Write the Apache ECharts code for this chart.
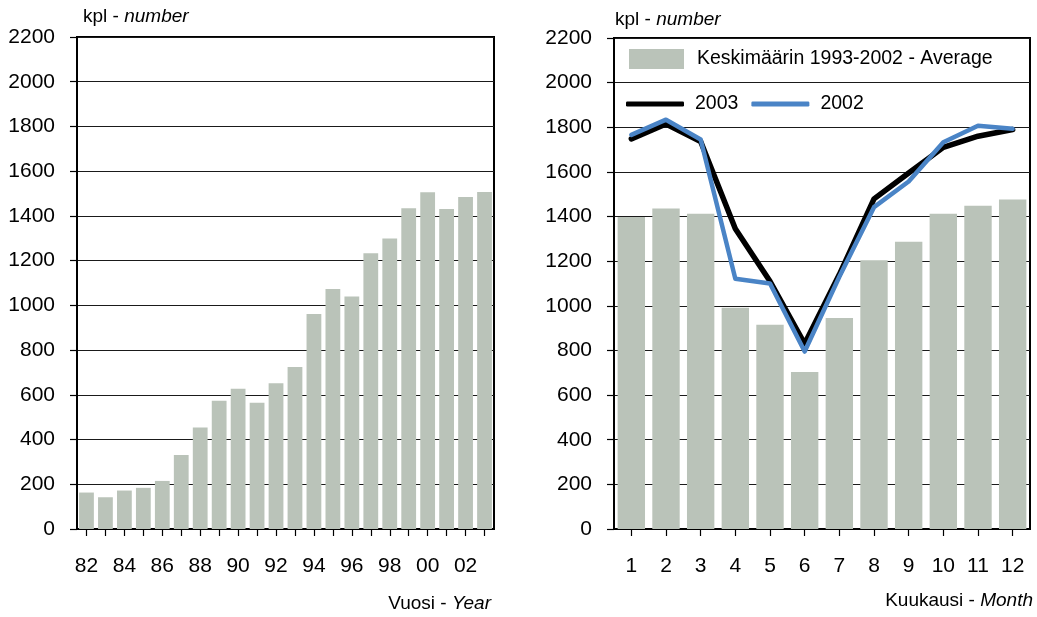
<!DOCTYPE html>
<html>
<head>
<meta charset="utf-8">
<script src="https://cdn.jsdelivr.net/npm/echarts@6/dist/echarts.min.js"></script>
<style>
  html, body { margin: 0; padding: 0; background: #fff; }
  #chart { width: 1037px; height: 617px; }
</style>
</head>
<body>
<div id="chart"></div>
<script>
// Annual totals, 1982-2003
const years = ['82','83','84','85','86','87','88','89','90','91','92','93','94','95','96','97','98','99','00','01','02','03'];
const yearTotals = [163,142,172,184,215,331,454,573,627,564,652,724,961,1073,1040,1233,1299,1434,1506,1431,1484,1507];

// Monthly figures
const months = ['1','2','3','4','5','6','7','8','9','10','11','12'];
const avg9302 = [1398,1436,1412,991,915,703,945,1204,1287,1412,1448,1476];
const y2003 = [1748,1815,1736,1345,1110,830,1140,1479,1595,1710,1760,1790];
const y2002 = [1766,1834,1745,1121,1100,795,1130,1442,1557,1733,1807,1793];

const avgName = 'Keskimäärin 1993-2002 - Average';
const FONT = '"Liberation Sans", Arial, sans-serif';
const BAR = '#bac3b9';
const BLUE = '#4a84c6';

function valueAxis(gridIndex) {
  return {
    type: 'value', gridIndex, min: 0, max: 2200, interval: 200,
    axisLine: { show: true, lineStyle: { color: '#000', width: 2 } },
    axisTick: { show: true, length: 7, lineStyle: { color: '#000', width: 1.2 } },
    axisLabel: { color: '#000', fontSize: 21, fontFamily: FONT, margin: 22, formatter: v => String(v) },
    splitLine: { show: true, lineStyle: { color: '#1a1a1a', width: 1 } }
  };
}
function catAxis(gridIndex, data, labelInterval) {
  return {
    type: 'category', gridIndex, data,
    axisLine: { show: true, lineStyle: { color: '#000', width: 2 } },
    axisTick: { show: true, length: 7, interval: 0, alignWithLabel: true, lineStyle: { color: '#000', width: 1.2 } },
    axisLabel: { color: '#000', fontSize: 21, fontFamily: FONT, margin: 27, interval: labelInterval },
    splitLine: { show: false }
  };
}
function axisTitle(pos, plain, italic) {
  return Object.assign({ type: 'text', z: 10 }, pos, {
    style: {
      text: '{a|' + plain + '}{b|' + italic + '}',
      rich: {
        a: { fontSize: 19, fontFamily: FONT, fill: '#000' },
        b: { fontSize: 19, fontFamily: FONT, fontStyle: 'italic', fill: '#000' }
      }
    }
  });
}

const chart = echarts.init(document.getElementById('chart'), null, { renderer: 'canvas' });
chart.setOption({
  backgroundColor: '#fff',
  animation: false,
  grid: [
    { left: 77, right: 543, top: 37, bottom: 88, show: true, borderColor: '#000', borderWidth: 2, backgroundColor: 'transparent' },
    { left: 614, right: 7, top: 38, bottom: 88, show: true, borderColor: '#000', borderWidth: 2, backgroundColor: 'transparent' }
  ],
  xAxis: [catAxis(0, years, 1), catAxis(1, months, 0)],
  yAxis: [valueAxis(0), valueAxis(1)],
  legend: [
    {
      data: [{ name: avgName, icon: 'rect' }], left: 629, top: 49, itemWidth: 55, itemHeight: 20,
      selectedMode: false, padding: 0,
      textStyle: { color: '#000', fontSize: 19.5, fontFamily: FONT, padding: [0, 0, 0, 8] }
    },
    {
      data: [
        { name: '2003', icon: 'roundRect', itemStyle: { color: '#000' } },
        { name: '2002', icon: 'roundRect', itemStyle: { color: BLUE } }
      ],
      left: 626, top: 94, itemWidth: 58, itemHeight: 5, itemGap: 13,
      selectedMode: false, padding: 0,
      textStyle: { color: '#000', fontSize: 19.5, fontFamily: FONT, padding: [0, 0, 0, 6] }
    }
  ],
  series: [
    {
      type: 'bar', xAxisIndex: 0, yAxisIndex: 0, data: yearTotals,
      barCategoryGap: '22%', itemStyle: { color: BAR }
    },
    {
      name: avgName, type: 'bar', xAxisIndex: 1, yAxisIndex: 1, data: avg9302,
      barCategoryGap: '21%', itemStyle: { color: BAR }
    },
    {
      name: '2003', type: 'line', xAxisIndex: 1, yAxisIndex: 1, data: y2003,
      symbol: 'none', lineStyle: { color: '#000', width: 5.5, cap: 'round', join: 'round' },
      itemStyle: { color: '#000' }, z: 3
    },
    {
      name: '2002', type: 'line', xAxisIndex: 1, yAxisIndex: 1, data: y2002,
      symbol: 'none', lineStyle: { color: BLUE, width: 4.5, cap: 'round', join: 'round' },
      itemStyle: { color: BLUE }, z: 4
    }
  ],
  graphic: [
    axisTitle({ left: 83, top: 7 }, 'kpl - ', 'number'),
    axisTitle({ left: 615, top: 10 }, 'kpl - ', 'number'),
    axisTitle({ right: 546, top: 594 }, 'Vuosi - ', 'Year'),
    axisTitle({ right: 4, top: 591 }, 'Kuukausi - ', 'Month')
  ]
});
</script>
</body>
</html>
